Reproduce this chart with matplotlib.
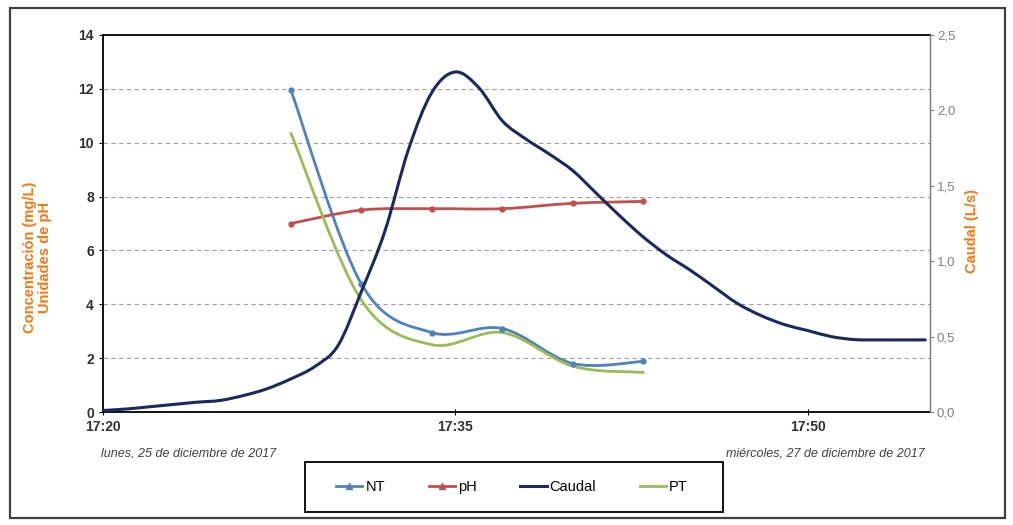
import numpy as np
import matplotlib
matplotlib.use("Agg")
import matplotlib.pyplot as plt
from matplotlib.path import Path
from matplotlib.patches import PathPatch, Rectangle
from matplotlib.lines import Line2D

plt.rcParams['font.family'] = ['Liberation Sans', 'DejaVu Sans']

# datos
horas_muestras = ["17:28", "17:31", "17:34", "17:37", "17:40", "17:43"]
nt = [11.95, 4.75, 2.95, 3.1, 1.8, 1.88]
ph = [7.0, 7.5, 7.55, 7.55, 7.75, 7.82]
pt = [10.35, 4.15, 2.5, 2.95, 1.7, 1.47]

horas_caudal = ["17:20", "17:21", "17:22", "17:23", "17:24", "17:25", "17:26", "17:27",
                "17:28", "17:29", "17:30", "17:31", "17:32", "17:33", "17:34", "17:35",
                "17:36", "17:37", "17:38", "17:39", "17:40", "17:41", "17:42", "17:43",
                "17:44", "17:45", "17:46", "17:47", "17:48", "17:49", "17:50", "17:51",
                "17:52", "17:53", "17:54", "17:55"]
caudal = [0.01, 0.02, 0.035, 0.05, 0.065, 0.077, 0.11, 0.155,
          0.22, 0.3, 0.44, 0.8, 1.2, 1.74, 2.12, 2.255,
          2.15, 1.93, 1.81, 1.71, 1.6, 1.45, 1.3, 1.16,
          1.04, 0.94, 0.83, 0.72, 0.64, 0.58, 0.54, 0.5,
          0.48, 0.478, 0.478, 0.478]

etiquetas_x = ["17:20", "17:35", "17:50"]

col_nt = '#4F81BD'
col_ph = '#C0504D'
col_caudal = '#1B2A5E'
col_pt = '#9BBB59'
naranja = '#F07818'


def a_minutos(h):
    hh, mm = h.split(":")
    return (int(hh) - 17) * 60 + int(mm) - 20


def curva_suave(ax, x, y, color, lw):
    # linea suavizada tipo Excel (bezier)
    x = np.asarray(x, float)
    y = np.asarray(y, float)
    p = np.column_stack([x, y])
    verts = [p[0]]
    codes = [Path.MOVETO]
    n = len(p)
    for i in range(n - 1):
        p0 = p[i - 1] if i > 0 else p[i]
        p3 = p[i + 2] if i + 2 < n else p[i + 1]
        c1 = p[i] + (p[i + 1] - p0) / 6
        c2 = p[i + 1] - (p3 - p[i]) / 6
        verts += [c1, c2, p[i + 1]]
        codes += [Path.CURVE4] * 3
    patch = PathPatch(Path(verts, codes), facecolor='none', edgecolor=color,
                      lw=lw, capstyle='round', joinstyle='round', zorder=3)
    ax.add_patch(patch)


xm = [a_minutos(h) for h in horas_muestras]
xc = [a_minutos(h) for h in horas_caudal]

fig = plt.figure(figsize=(10.13, 5.25), dpi=100)
ax = fig.add_axes([103 / 1013, 1 - 412 / 525, 827 / 1013, 377 / 525])
ax2 = ax.twinx()

curva_suave(ax, xm, nt, col_nt, 2.0)
ax.plot(xm, nt, ls='none', marker='o', ms=3.5, color=col_nt, zorder=4)
curva_suave(ax, xm, ph, col_ph, 2.0)
ax.plot(xm, ph, ls='none', marker='o', ms=3.5, color=col_ph, zorder=4)
curva_suave(ax, xm, pt, col_pt, 2.0)
curva_suave(ax2, xc, caudal, col_caudal, 2.2)

ax.set_xlim(0, 35.2)
ax.set_ylim(0, 14)
ax2.set_ylim(0, 2.5)
ax.set_yticks(np.arange(0, 15, 2))
ax2.set_yticks(np.arange(0, 2.51, 0.5))
ax2.set_yticklabels([f"{v:.1f}".replace(".", ",") for v in np.arange(0, 2.51, 0.5)])
ax.set_xticks([a_minutos(h) for h in etiquetas_x])
ax.set_xticklabels(etiquetas_x)

for v in range(2, 14, 2):
    ax.axhline(v, color='#A0A0A0', lw=0.8, ls=(0, (4, 3)), zorder=1)

for s in ['left', 'bottom', 'top']:
    ax.spines[s].set_color('black')
    ax.spines[s].set_linewidth(1.3)
ax2.spines['right'].set_color('#808080')
ax2.spines['right'].set_linewidth(1.0)
for s in ['left', 'bottom', 'top']:
    ax2.spines[s].set_visible(False)

ax.tick_params(axis='y', labelsize=10, colors='black', length=3, width=0.8)
ax.tick_params(axis='x', labelsize=10, direction='inout', length=5, width=0.8)
for t in ax.get_yticklabels() + ax.get_xticklabels():
    t.set_fontweight('bold')
    t.set_color('#303030')
ax2.tick_params(axis='y', labelsize=9.5, colors='#808080', length=3, width=0.8, pad=2)

ax.set_ylabel("Concentración (mg/L)\nUnidades de pH", color=naranja,
              fontsize=10.5, fontweight='bold', linespacing=1.1)
ax.yaxis.set_label_coords(-0.062, 0.41)
ax2.set_ylabel("Caudal (L/s)", color=naranja, fontsize=10.5, fontweight='bold')
ax2.yaxis.set_label_coords(1.042, 0.48)

ax.text(-0.003, -0.11, "lunes, 25 de diciembre de 2017", transform=ax.transAxes,
        fontsize=9, style='italic', color='#404040', ha='left', va='center')
ax.text(0.994, -0.11, "miércoles, 27 de diciembre de 2017", transform=ax.transAxes,
        fontsize=9, style='italic', color='#404040', ha='right', va='center')

handles = [
    Line2D([], [], color=col_nt, lw=2, marker='^', ms=4),
    Line2D([], [], color=col_ph, lw=2, marker='^', ms=4),
    Line2D([], [], color=col_caudal, lw=2.2),
    Line2D([], [], color=col_pt, lw=2),
]
leg = fig.legend(handles, ["NT", "pH", "Caudal", "PT"], ncol=4, loc='center',
                 bbox_to_anchor=(512 / 1013, 1 - 487 / 525),
                 fontsize=10.5, handlelength=1.8, handletextpad=0.2,
                 columnspacing=3.0, frameon=False, borderaxespad=0)

# marco de la leyenda
fig.patches.append(Rectangle((305 / 1013, 1 - 512 / 525), 418 / 1013, 50 / 525,
                             transform=fig.transFigure, fill=False,
                             edgecolor='black', lw=1.3))
# marco exterior
fig.patches.append(Rectangle((10 / 1013, 1 - 518 / 525), 995 / 1013, 510 / 525,
                             transform=fig.transFigure, fill=False,
                             edgecolor='#404040', lw=1.6))

fig.savefig("out.png", dpi=100)
